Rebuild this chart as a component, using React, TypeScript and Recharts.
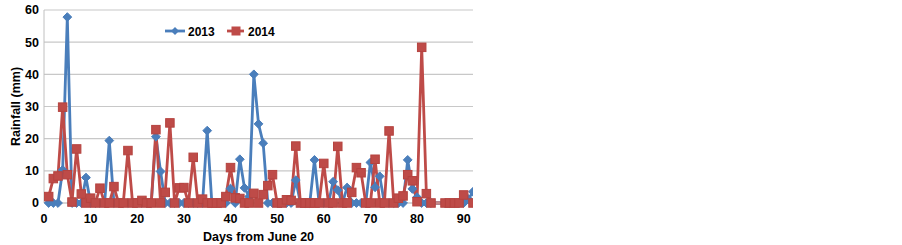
import { LineChart, Line, XAxis, YAxis, CartesianGrid, Legend } from "recharts";

const days = [
  1, 2, 3, 4, 5, 6, 7, 8, 9, 10, 11, 12, 13, 14, 15, 16, 17, 18, 19, 20,
  21, 22, 23, 24, 25, 26, 27, 28, 29, 30, 31, 32, 33, 34, 35, 36, 37, 38, 39, 40,
  41, 42, 43, 44, 45, 46, 47, 48, 49, 50, 51, 52, 53, 54, 55, 56, 57, 58, 59, 60,
  61, 62, 63, 64, 65, 66, 67, 68, 69, 70, 71, 72, 73, 74, 75, 76, 77, 78, 79, 80,
  81, 82, 83, 84, 85, 86, 87, 88, 89, 90, 91, 92,
];

// rainfall (mm), 2013
const rain2013 = [
  0, 0, 0, 10.3, 57.8, 0, 0, 0, 7.9, 0,
  0, 0, 0, 19.4, 0, 0, 0, 0, 0, 0,
  0, 0, 0, 20.6, 9.8, 0, 0, 0, 0, 0,
  0, 0, 0, 0, 22.5, 0, 0, 0, 0, 4.5,
  0, 13.6, 4.7, 2, 40, 24.6, 18.6, 0, 0, 0,
  0, 0, 0, 7.1, 0, 0, 0, 13.4, 0, 0,
  0, 6.6, 4, 0, 4.8, 0, 0, 0, 0, 12.6,
  4.9, 8.3, 0, 0, 0, 0, 0, 13.4, 4.4, 1.8,
  0, 0, 0, null, null, 0, 0, 0, 0, 0,
  1.2, 3.5,
];

// rainfall (mm), 2014
const rain2014 = [
  2, 7.6, 8.4, 29.8, 8.8, 0.3, 16.8, 2.8, 0, 1.5,
  0, 4.6, 0, 0, 5.1, 0, 0, 16.3, 0, 0,
  0.8, 0, 0, 22.8, 0, 3.3, 24.9, 0, 4.7, 4.8,
  0, 14.2, 0, 1.2, 0, 0, 0, 0, 2, 11,
  1.6, 1.4, 0, 0, 3, 0, 2.6, 5.4, 8.8, 0,
  0, 1, 0.8, 17.7, 0, 0, 0, 0, 0, 12.3,
  0, 0, 17.6, 0, 0, 3.3, 11, 9.4, 0, 0,
  13.6, 0, 0, 22.4, 0, 1.5, 2.2, 8.8, 6.9, 0.4,
  48.4, 2.9, 0, null, null, 0, 0, 0, 0, 2.5,
  null, 0,
];

const xTicks = [0, 10, 20, 30, 40, 50, 60, 70, 80, 90];
const yTicks = [0, 10, 20, 30, 40, 50, 60];

const BLUE = "#4A7EBB";
const RED = "#BE4B48";
const FONT = "'Liberation Sans', Arial, sans-serif";

const data = days.map((day, i) => ({ day, y2013: rain2013[i], y2014: rain2014[i] }));

function Diamond(props: any) {
  const { cx, cy, index } = props;
  if (cx == null || cy == null || props.value == null) return <g key={"b" + index} />;
  const r = 4.4;
  return (
    <polygon
      key={"b" + index}
      points={`${cx},${cy - r} ${cx + r},${cy} ${cx},${cy + r} ${cx - r},${cy}`}
      fill={BLUE}
      stroke={BLUE}
      strokeWidth={1}
    />
  );
}

function Square(props: any) {
  const { cx, cy, index } = props;
  if (cx == null || cy == null || props.value == null) return <g key={"r" + index} />;
  const s = 8.5;
  return (
    <rect
      key={"r" + index}
      x={cx - s / 2}
      y={cy - s / 2}
      width={s}
      height={s}
      fill={RED}
      stroke="#B5433F"
      strokeWidth={1}
    />
  );
}

function renderLegend() {
  return (
    <svg width={125} height={16} style={{ display: "block" }}>
      <line x1={2} y1={8} x2={22} y2={8} stroke={BLUE} strokeWidth={2.8} />
      <polygon points="12,4 16,8 12,12 8,8" fill={BLUE} />
      <text x={25} y={12.5} fontFamily={FONT} fontWeight="bold" fontSize={12} fill="#000">
        2013
      </text>
      <line x1={64} y1={8} x2={81} y2={8} stroke={RED} strokeWidth={2.8} />
      <rect x={68.5} y={3.5} width={9} height={9} fill={RED} />
      <text x={85} y={12.5} fontFamily={FONT} fontWeight="bold" fontSize={12} fill="#000">
        2014
      </text>
    </svg>
  );
}

export default function App() {
  const tickStyle = { fill: "#000", fontFamily: FONT, fontWeight: "bold", fontSize: 12.5 };
  return (
    <div style={{ position: "absolute", left: 0, top: 0, background: "#fff" }}>
      <LineChart
        width={902}
        height={245}
        data={data}
        margin={{ top: 10, right: 429, bottom: 0, left: 10 }}
      >
        <CartesianGrid vertical={false} stroke="#c8c8c8" strokeWidth={1.2} />
        <XAxis
          dataKey="day"
          type="number"
          domain={[0, 92]}
          ticks={xTicks}
          allowDataOverflow
          height={42}
          tickLine={false}
          tickSize={0}
          tickMargin={11}
          axisLine={{ stroke: "#c8c8c8" }}
          tick={tickStyle}
          label={{
            value: "Days from June 20",
            position: "insideBottom",
            offset: 4,
            style: { fill: "#000", fontFamily: FONT, fontWeight: "bold", fontSize: 12.5 },
          }}
        />
        <YAxis
          domain={[0, 60]}
          ticks={yTicks}
          width={34}
          tickLine={false}
          tickSize={0}
          tickMargin={5}
          axisLine={{ stroke: "#c0c0c0" }}
          tick={tickStyle}
          label={{
            value: "Rainfall (mm)",
            angle: -90,
            position: "insideLeft",
            offset: 6,
            style: { fill: "#000", fontFamily: FONT, fontWeight: "bold", fontSize: 12.5, textAnchor: "middle" },
          }}
        />
        <Legend
          layout="vertical"
          align="center"
          verticalAlign="middle"
          content={renderLegend}
          wrapperStyle={{ top: 23, left: 163, width: 125, height: 16 }}
        />
        <Line
          dataKey="y2013"
          name="2013"
          stroke={BLUE}
          strokeWidth={2.8}
          connectNulls
          dot={Diamond}
          activeDot={false}
          isAnimationActive={false}
        />
        <Line
          dataKey="y2014"
          name="2014"
          stroke={RED}
          strokeWidth={2.8}
          connectNulls
          dot={Square}
          activeDot={false}
          isAnimationActive={false}
        />
      </LineChart>
    </div>
  );
}
